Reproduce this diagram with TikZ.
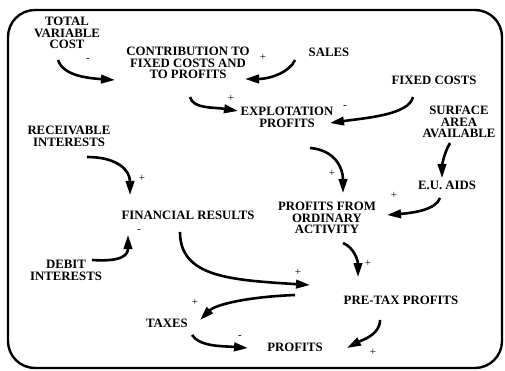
\documentclass[tikz,border=0pt]{standalone}
\usepackage{fontspec}
\setmainfont{Liberation Serif}
\usepackage{xcolor}
\usepackage{tikz}
\usetikzlibrary{arrows.meta}

\tikzset{
	box/.style={align=center,inner sep=0pt,font=\bfseries\fontsize{12.8}{11.8}\selectfont},
	flow/.style={line width=2.6pt,-{Triangle[length=14pt,width=8.5pt]}},
	sign/.style={inner sep=0pt,font=\fontsize{11}{11}\selectfont}
}

\begin{document}
\begin{tikzpicture}[x=1pt,y=-1pt]
		\useasboundingbox (0,0) rectangle (505,371);
		\draw [line width=2.4pt,rounded corners=27pt] (8,10) rectangle (502,368);
		% variables
		\node [box] (tvc) at (67,33) {TOTAL\\VARIABLE\\COST};
		\node [box] (ctf) at (188,63) {CONTRIBUTION TO\\FIXED COSTS AND\\TO PROFITS};
		\node [box] (sales) at (329,52) {SALES};
		\node [box] (fc) at (434,80) {FIXED COSTS};
		\node [box] (exp) at (287,117) {EXPLOTATION\\PROFITS};
		\node [box] (saa) at (459,122) {SURFACE\\AREA\\AVAILABLE};
		\node [box] (ri) at (69,136) {RECEIVABLE\\INTERESTS};
		\node [box] (eu) at (447,185) {E.U. AIDS};
		\node [box] (fr) at (188,215) {FINANCIAL RESULTS};
		\node [box] (pfo) at (327,218) {PROFITS FROM\\ORDINARY\\ACTIVITY};
		\node [box] (di) at (66,270) {DEBIT\\INTERESTS};
		\node [box] (pt) at (401,300) {PRE-TAX PROFITS};
		\node [box] (tx) at (167,323) {TAXES};
		\node [box] (pr) at (295,347) {PROFITS};
		% links
		\draw [flow] ([shift={(-9,27)}]tvc.center) .. controls +(5,15) and +(-30,-2) .. ([shift={(-73,17)}]ctf.center);
		\draw [flow] ([shift={(-34,8)}]sales.center) .. controls +(-5,12) and +(25,0) .. ([shift={(57,16)}]ctf.center);
		\draw [flow] ([shift={(2,34)}]ctf.center) .. controls +(3,12) and +(-25,-4) .. ([shift={(-49,-6)}]exp.center);
		\draw [flow] ([shift={(-21,17)}]fc.center) .. controls +(-4,18) and +(35,-5) .. ([shift={(43,6)}]exp.center);
		\draw [flow] ([shift={(23,31)}]exp.center) .. controls +(25,2) and +(0,-25) .. ([shift={(16,-25)}]pfo.center);
		\draw [flow] ([shift={(-9,21)}]saa.center) .. controls +(-6,10) and +(0,-12) .. ([shift={(-5,-7)}]eu.center);
		\draw [flow] ([shift={(-7,13)}]eu.center) .. controls +(-4,12) and +(25,-2) .. ([shift={(60,-3)}]pfo.center);
		\draw [flow] ([shift={(18,21)}]ri.center) .. controls +(30,0) and +(0,-25) .. ([shift={(-58,-20)}]fr.center);
		\draw [flow] ([shift={(26,-10)}]di.center) .. controls +(30,2) and +(0,20) .. ([shift={(-60,20)}]fr.center);
		\draw [flow] ([shift={(-8,17)}]fr.center) .. controls +(0,45) and +(-80,-5) .. ([shift={(-91,-15)}]pt.center);
		\draw [flow] ([shift={(16,25)}]pfo.center) .. controls +(12,5) and +(0,-15) .. ([shift={(-43,-23)}]pt.center);
		\draw [flow] ([shift={(-106,-5)}]pt.center) .. controls +(-50,2) and +(15,-15) .. ([shift={(33,-3)}]tx.center);
		\draw [flow] ([shift={(25,12)}]tx.center) .. controls +(8,12) and +(-25,-2) .. ([shift={(-47,1)}]pr.center);
		\draw [flow] ([shift={(-21,20)}]pt.center) .. controls +(0,15) and +(15,-8) .. ([shift={(52,1)}]pr.center);
		% signs
		\node [sign] (s1) at (88,60) {-};
		\node [sign] (s2) at (263,57) {+};
		\node [sign] (s3) at (231,98) {+};
		\node [sign] (s4) at (345,107) {-};
		\node [sign] (s5) at (332,173) {+};
		\node [sign] (s6) at (394,195) {+};
		\node [sign] (s7) at (142,178) {+};
		\node [sign] (s8) at (139,231) {-};
		\node [sign] (s9) at (298,272) {+};
		\node [sign] (s10) at (368,263) {+};
		\node [sign] (s11) at (195,302) {+};
		\node [sign] (s12) at (240,337) {-};
		\node [sign] (s13) at (373,352) {+};
	\end{tikzpicture}
\end{document}
